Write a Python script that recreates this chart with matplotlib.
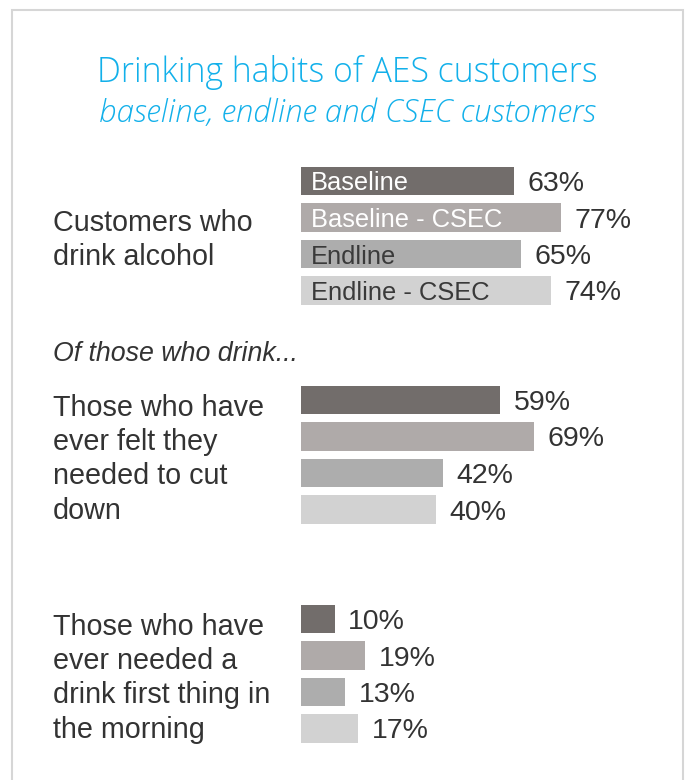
import matplotlib
matplotlib.use("Agg")
import matplotlib.pyplot as plt
from matplotlib import transforms
from matplotlib.patches import Rectangle

plt.rcParams['font.family'] = ['Liberation Sans', 'DejaVu Sans']

title = "Drinking habits of AES customers"
subtitle = "baseline, endline and CSEC customers"

series = ["Baseline", "Baseline - CSEC", "Endline", "Endline - CSEC"]
groups = ["Customers who\ndrink alcohol",
          "Those who have\never felt they\nneeded to cut\ndown",
          "Those who have\never needed a\ndrink first thing in\nthe morning"]
values = [
    [63, 77, 65, 74],
    [59, 69, 42, 40],
    [10, 19, 13, 17],
]
note = "Of those who drink..."

colors = ["#726d6b", "#afaaa9", "#adadad", "#d2d2d2"]
inner_text = ["white", "white", "#3a3a3a", "#3a3a3a"]
text_col = "#333333"
blue = "#12b0ea"

W, H = 688, 780
fig = plt.figure(figsize=(W / 100, H / 100), dpi=100)

# frame around the panel
fig.patches.append(Rectangle((12 / W, -0.05), 671 / W, 1.05 - 10 / H,
                             transform=fig.transFigure, fill=False,
                             edgecolor="#d6d6d6", linewidth=1.5))

# axes: 0..100 % across 340 px, rows spaced 36.5 px
row = 36.5
top_px = 181 - row / 2
bot_px = 181 + 15 * row + row / 2
ax = fig.add_axes([301 / W, 1 - bot_px / H, 338 / W, (bot_px - top_px) / H])
ax.set_xlim(0, 100)
ax.set_ylim(15.5, -0.5)
ax.axis("off")

fx = transforms.blended_transform_factory(fig.transFigure, ax.transData)

for g, (label, vals) in enumerate(zip(groups, values)):
    base = g * 6
    for i, v in enumerate(vals):
        y = base + i
        ax.barh(y, v, height=0.77, color=colors[i], edgecolor="none")
        ax.text(v + 4, y, f"{v}%", va="center_baseline", ha="left",
                fontsize=20.5, color=text_col)
        if g == 0:
            ax.text(3, y, series[i], va="center_baseline", ha="left",
                    fontsize=18.4, color=inner_text[i])
    ax.text(53 / W, base + 1.62, label, transform=fx, va="center", ha="left",
            fontsize=20.7, color=text_col, linespacing=1.29)

ax.text(53 / W, 4.66, note, transform=fx, va="center_baseline", ha="left",
        fontsize=19.3, style="italic", color=text_col)

fig.text(347 / W, 1 - 72 / H, title, ha="center", va="center",
         fontsize=24.3, color=blue, family=["Open Sans", "DejaVu Sans"],
         fontweight="light")
fig.text(347 / W, 1 - 113 / H, subtitle, ha="center", va="center",
         fontsize=22.5, color=blue, style="italic",
         family=["Open Sans", "DejaVu Sans"], fontweight="light")

fig.savefig("out.png", dpi=100)
